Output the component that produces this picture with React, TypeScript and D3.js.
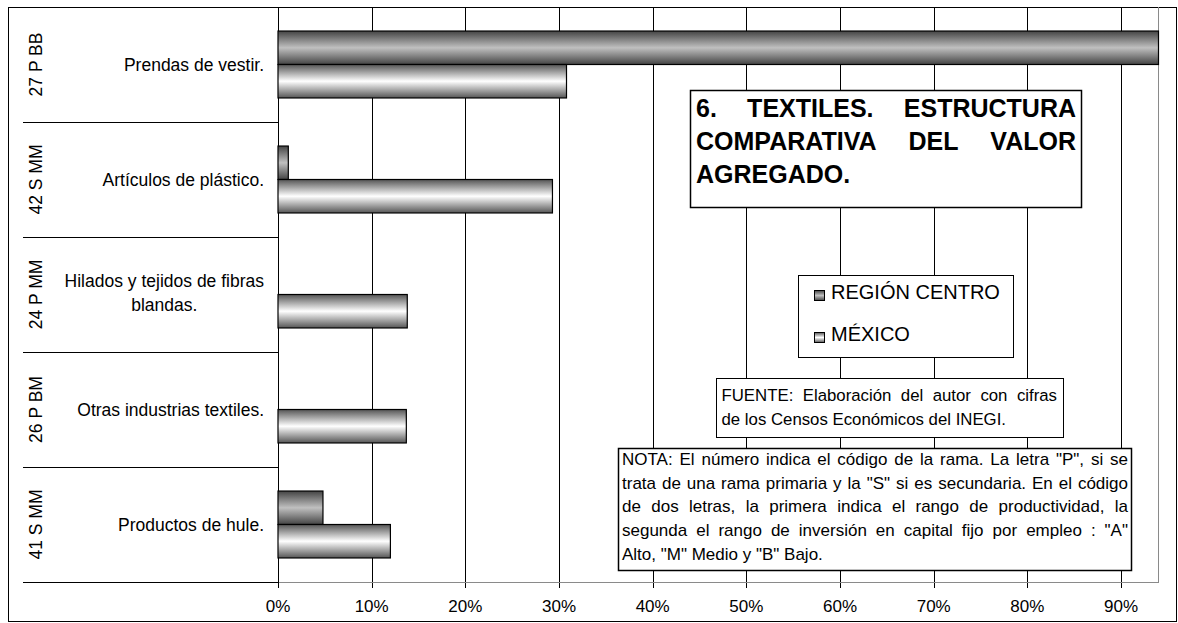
import React from "react";
import * as d3 from "d3";

const categoryLines: string[][] = [
  ["Prendas de vestir."],
  ["Artículos de plástico."],
  ["Hilados y tejidos de fibras", "blandas."],
  ["Otras industrias textiles."],
  ["Productos de hule."],
];
const codes = ["27 P BB", "42 S MM", "24 P MM", "26 P BM", "41 S MM"];
const seriesNames = ["REGIÓN CENTRO", "MÉXICO"];
const regionCentro = [0.94, 0.011, 0, 0, 0.048];
const mexico = [0.308, 0.293, 0.138, 0.137, 0.12];
const tickValues = [0, 0.1, 0.2, 0.3, 0.4, 0.5, 0.6, 0.7, 0.8, 0.9];
const tickLabels = ["0%", "10%", "20%", "30%", "40%", "50%", "60%", "70%", "80%", "90%"];
const titleLines = ["6. TEXTILES. ESTRUCTURA", "COMPARATIVA DEL VALOR", "AGREGADO."];
const sourceLines = ["FUENTE: Elaboración del autor con cifras", "de los Censos Económicos del INEGI."];
const noteLines = [
  'NOTA: El número indica el código de la rama. La letra "P", si se',
  'trata de una rama primaria y la "S" si es secundaria. En el código',
  "de dos letras, la primera indica el rango de productividad, la",
  'segunda el rango de inversión en capital fijo por empleo : "A"',
  'Alto, "M" Medio y "B" Bajo.',
];

const FONT = "'Liberation Sans', Arial, Helvetica, sans-serif";
const W = 1178;
const H = 623;

let _ctx: CanvasRenderingContext2D | null = null;
function measure(text: string, size: number, weight = "normal") {
  if (!_ctx) _ctx = document.createElement("canvas").getContext("2d");
  if (!_ctx) return text.length * size * 0.5;
  _ctx.font = `${weight} ${size}px 'Liberation Sans', Arial, sans-serif`;
  return _ctx.measureText(text).width;
}

function Justified(props: {
  lines: string[];
  x0: number;
  x1: number;
  y0: number;
  lh: number;
  size: number;
  weight?: string;
}) {
  const { lines, x0, x1, y0, lh, size } = props;
  const weight = props.weight || "normal";
  const out: React.ReactNode[] = [];
  lines.forEach((line, i) => {
    const y = y0 + i * lh;
    const words = line.split(" ");
    const last = i === lines.length - 1;
    if (last || words.length < 2) {
      out.push(
        <text key={i} x={x0} y={y} fontSize={size} fontWeight={weight} fontFamily={FONT} fill="#000">
          {line}
        </text>
      );
    } else {
      const widths = words.map((w) => measure(w, size, weight));
      const sum = d3.sum(widths);
      const gap = (x1 - x0 - sum) / (words.length - 1);
      let x = x0;
      words.forEach((w, j) => {
        out.push(
          <text key={i + "-" + j} x={x} y={y} fontSize={size} fontWeight={weight} fontFamily={FONT} fill="#000">
            {w}
          </text>
        );
        x += widths[j] + gap;
      });
    }
  });
  return <g>{out}</g>;
}

export default function App() {
  const left = 278;
  const top = 7;
  const bottom = 582;
  const x = d3.scaleLinear().domain([0, 0.94]).range([left, 1158.5]);
  const idx = categoryLines.map((_, i) => String(i));
  const y = d3.scaleBand<string>().domain(idx).range([top, bottom]);
  const bw = y.bandwidth();
  const inner = d3.scaleBand<string>().domain(seriesNames).range([bw * 0.209, bw * 0.791]);
  const values = [regionCentro, mexico];
  const grads = ["gradRC", "gradMX"];
  const labelSize = 17.5;

  return (
    <svg
      width={W}
      height={H}
      style={{ position: "absolute", left: 0, top: 0, background: "#fff" }}
      xmlns="http://www.w3.org/2000/svg"
    >
      <defs>
        <linearGradient id="gradRC" x1="0" y1="0" x2="0" y2="1">
          <stop offset="0" stopColor="#444" />
          <stop offset="0.5" stopColor="#c0c0c0" />
          <stop offset="1" stopColor="#444" />
        </linearGradient>
        <linearGradient id="gradMX" x1="0" y1="0" x2="0" y2="1">
          <stop offset="0" stopColor="#555" />
          <stop offset="0.5" stopColor="#ffffff" />
          <stop offset="1" stopColor="#555" />
        </linearGradient>
      </defs>
      <rect x={0} y={0} width={W} height={H} fill="#fff" />
      {/* outer border */}
      <rect x={8.5} y={7.5} width={1168} height={614} fill="none" stroke="#000" strokeWidth={1} />

      {/* gridlines and ticks */}
      {tickValues.map((t, i) => (
        <line
          key={"g" + i}
          x1={Math.round(x(t)) + 0.5}
          x2={Math.round(x(t)) + 0.5}
          y1={top}
          y2={bottom + 6}
          stroke="#000"
          strokeWidth={1}
        />
      ))}
      <line x1={1158.5} x2={1158.5} y1={top} y2={bottom} stroke="#8a8a8a" strokeWidth={1} />
      <line x1={left} x2={1159} y1={bottom + 0.5} y2={bottom + 0.5} stroke="#8a8a8a" strokeWidth={1} />

      {/* category separators */}
      {idx.map((k) => (
        <line
          key={"s" + k}
          x1={23}
          x2={left}
          y1={Math.round(y(k)! + bw) + 0.5}
          y2={Math.round(y(k)! + bw) + 0.5}
          stroke="#000"
          strokeWidth={1}
        />
      ))}
      <line x1={left + 0.5} x2={left + 0.5} y1={top} y2={bottom + 6} stroke="#000" strokeWidth={1} />

      {/* bars */}
      {idx.map((k, i) =>
        seriesNames.map((s, j) => {
          const v = values[j][i];
          if (!v) return null;
          return (
            <rect
              key={"b" + i + j}
              x={x(0)}
              y={y(k)! + inner(s)!}
              width={x(v) - x(0)}
              height={inner.bandwidth()}
              fill={`url(#${grads[j]})`}
              stroke="#000"
              strokeWidth={1.2}
            />
          );
        })
      )}

      {/* category labels */}
      {idx.map((k, i) => {
        const cy = y(k)! + bw / 2;
        const lines = categoryLines[i];
        const lh = 24;
        const w0 = measure(lines[0], labelSize);
        const cx = 264 - w0 / 2;
        const multi = lines.length > 1;
        return (
          <g key={"l" + i}>
            <text
              transform={`translate(42, ${cy}) rotate(-90)`}
              textAnchor="middle"
              fontSize={labelSize}
              fontFamily={FONT}
              fill="#000"
            >
              {codes[i]}
            </text>
            {lines.map((ln, m) => (
              <text
                key={m}
                x={multi ? cx : 264}
                y={cy + (multi ? 4 : 6) + (m - (lines.length - 1) / 2) * lh}
                textAnchor={multi ? "middle" : "end"}
                fontSize={labelSize}
                fontFamily={FONT}
                fill="#000"
              >
                {ln}
              </text>
            ))}
          </g>
        );
      })}

      {/* x axis labels */}
      {tickValues.map((t, i) => (
        <text
          key={"t" + i}
          x={x(t)}
          y={612}
          textAnchor="middle"
          fontSize={17}
          fontFamily={FONT}
          fill="#000"
        >
          {tickLabels[i]}
        </text>
      ))}

      {/* title box */}
      <rect x={690.5} y={90.5} width={391} height={117} fill="#fff" stroke="#000" strokeWidth={1.5} />
      <Justified lines={titleLines} x0={696} x1={1076} y0={117} lh={33} size={25} weight="bold" />

      {/* legend */}
      <rect x={798.5} y={275.5} width={215} height={82} fill="#fff" stroke="#000" strokeWidth={1} />
      {seriesNames.map((s, j) => (
        <g key={"lg" + j}>
          <rect
            x={814.5}
            y={290.5 + j * 42}
            width={10}
            height={10}
            fill={`url(#${grads[j]})`}
            stroke="#000"
            strokeWidth={1}
          />
          <text x={831} y={299 + j * 42} fontSize={20} fontFamily={FONT} fill="#000">
            {s}
          </text>
        </g>
      ))}

      {/* source box */}
      <rect x={716.5} y={378.5} width={347} height={59} fill="#fff" stroke="#000" strokeWidth={1} />
      <Justified lines={sourceLines} x0={721.5} x1={1057} y0={400.5} lh={24.5} size={16.8} />

      {/* note box */}
      <rect x={618.5} y={448.5} width={513} height={122} fill="#fff" stroke="#000" strokeWidth={1.5} />
      <Justified lines={noteLines} x0={622} x1={1128} y0={465} lh={23.7} size={17} />
    </svg>
  );
}
